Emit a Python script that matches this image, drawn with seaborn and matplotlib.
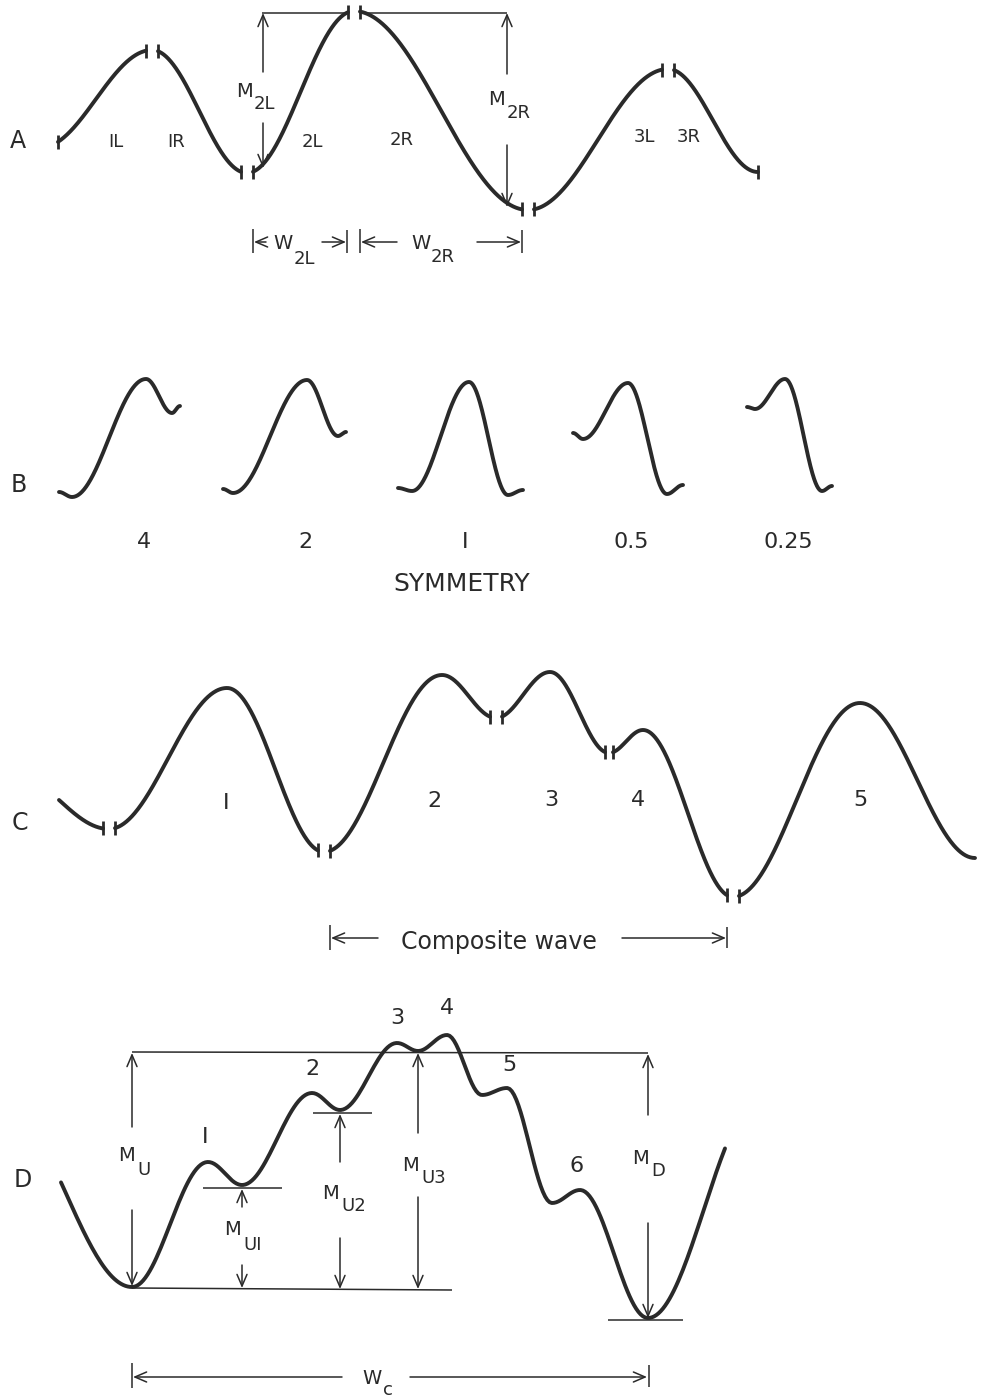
import numpy as np
import pandas as pd
import seaborn as sns
import matplotlib
matplotlib.use("Agg")
import matplotlib.pyplot as plt

INK = "#2a2a2a"

# turning points of each trace (pixel units, y down).
# a first/last point outside the drawn range only shapes the curve end.
a_x = [40, 152, 247, 354, 528, 668, 758]
a_y = [148, 50, 173, 11, 210, 69, 172]
a_breaks = [152, 247, 354, 528, 668]

b_x = [[59, 72, 146, 172, 180],
       [223, 233, 307, 338, 346],
       [398, 412, 469, 508, 523],
       [573, 583, 628, 667, 683],
       [747, 755, 785, 822, 832]]
b_y = [[492, 497, 379, 413, 406],
       [489, 493, 380, 436, 432],
       [488, 491, 382, 495, 490],
       [433, 439, 383, 494, 485],
       [407, 409, 379, 491, 486]]
b_symmetry = ["4", "2", "I", "0.5", "0.25"]

c_x = [9, 109, 227, 324, 442, 496, 550, 609, 643, 733, 860, 975]
c_y = [771, 829, 688, 852, 675, 718, 672, 753, 730, 897, 703, 858]
c_breaks = [109, 324, 496, 609, 733]
c_gaps = [6, 6, 6, 4, 6]
c_names = ["I", "2", "3", "4", "5"]

d_x = [0, 132, 208, 242, 312, 340, 397, 418, 447, 482, 507, 552, 580, 648, 760]
d_y = [1100, 1287, 1162, 1185, 1093, 1110, 1043, 1051, 1035, 1095, 1088, 1203,
       1190, 1318, 1100]
d_names = ["I", "2", "3", "4", "5", "6"]


def wave_y(xk, yk, x):
    xk = np.asarray(xk, float)
    yk = np.asarray(yk, float)
    i = np.clip(np.searchsorted(xk, x, side="right") - 1, 0, len(xk) - 2)
    t = (x - xk[i]) / (xk[i + 1] - xk[i])
    return yk[i] + (yk[i + 1] - yk[i]) * (1 - np.cos(np.pi * t)) / 2


def pieces(name, xk, yk, x_from, x_to, breaks=(), gaps=None):
    gaps = gaps or [6] * len(breaks)
    edges = [x_from]
    for b, g in zip(breaks, gaps):
        edges += [b - g, b + g]
    edges.append(x_to)
    frames = []
    for k in range(0, len(edges), 2):
        x = np.linspace(edges[k], edges[k + 1], 300)
        frames.append(pd.DataFrame({"x": x, "y": wave_y(xk, yk, x),
                                    "piece": f"{name}{k // 2}"}))
    return frames


def txt(ax, x, yc, s, size, ha="center"):
    # yc is the middle of the capitals
    ax.text(x, yc + 0.365 * size * 100 / 72, s, ha=ha, va="baseline",
            fontsize=size, color=INK)


def sub_label(ax, xm, ym, main, xs, ys, sub, size=14, sub_size=13):
    txt(ax, xm, ym, main, size)
    txt(ax, xs, ys, sub, sub_size, ha="left")


def arrow(ax, tail, tip):
    ax.annotate("", xy=tip, xytext=tail,
                arrowprops=dict(arrowstyle="->,head_length=0.7,head_width=0.3",
                                lw=1.1, color=INK, shrinkA=0, shrinkB=0,
                                mutation_scale=12))


def line(ax, xs, ys, lw=1.1):
    ax.plot(xs, ys, color=INK, lw=lw, solid_capstyle="butt")


sns.set_theme(style="white")
plt.rcParams["font.family"] = ["DejaVu Sans"]

fig = plt.figure(figsize=(9.89, 13.98), dpi=100)
ax = fig.add_axes([0, 0, 1, 1])

frames = []
fa = pieces("A", a_x, a_y, 58, 758, a_breaks)
frames += fa
for j, (bx, by) in enumerate(zip(b_x, b_y)):
    frames += pieces(f"B{j}_", bx, by, bx[0], bx[-1])
fc = pieces("C", c_x, c_y, 59, 975, c_breaks, c_gaps)
frames += fc
frames += pieces("D", d_x, d_y, 61, 725)
curves = pd.concat(frames, ignore_index=True)

sns.lineplot(data=curves, x="x", y="y", units="piece", estimator=None,
             sort=False, color=INK, linewidth=2.8, ax=ax)

# little end bars where the traces are cut
ends = []
for f in fa:
    ends += [(f.x.iloc[0], f.y.iloc[0]), (f.x.iloc[-1], f.y.iloc[-1])]
for k, f in enumerate(fc):
    if k > 0:
        ends.append((f.x.iloc[0], f.y.iloc[0]))
    if k < len(fc) - 1:
        ends.append((f.x.iloc[-1], f.y.iloc[-1]))
for ex, ey in ends:
    line(ax, [ex, ex], [ey - 7, ey + 7], lw=2.0)

# ---- panel A
txt(ax, 18, 139, "A", 17)
for s, x, y in zip(["IL", "IR", "2L", "2R", "3L", "3R"],
                   [116, 176, 312, 402, 644, 689],
                   [140, 140, 140, 138, 135, 135]):
    txt(ax, x, y, s, 13)
line(ax, [262, 346], [13, 13])
line(ax, [364, 507], [13, 13])
arrow(ax, (263, 72), (263, 13))
arrow(ax, (263, 123), (263, 168))
arrow(ax, (507, 74), (507, 13))
arrow(ax, (507, 145), (507, 207))
sub_label(ax, 244, 90, "M", 254, 102, "2L")
sub_label(ax, 496, 98, "M", 507, 111, "2R")
line(ax, [253, 253], [229, 253])
arrow(ax, (266, 242), (254, 242))
arrow(ax, (322, 242), (346, 242))
line(ax, [347, 347], [230, 253])
line(ax, [360, 360], [229, 253])
arrow(ax, (397, 242), (361, 242))
arrow(ax, (477, 242), (521, 242))
line(ax, [522, 522], [230, 253])
sub_label(ax, 283, 242, "W", 294, 257, "2L")
sub_label(ax, 421, 242, "W", 431, 255, "2R")

# ---- panel B
txt(ax, 19, 483, "B", 17)
for s, x in zip(b_symmetry, [144, 305, 465, 631, 788]):
    txt(ax, x, 540, s, 16)
txt(ax, 462, 582, "SYMMETRY", 18)

# ---- panel C
txt(ax, 20, 821, "C", 17)
for s, x, y in zip(c_names, [226, 434, 551, 638, 860],
                   [801, 799, 798, 798, 798]):
    txt(ax, x, y, s, 16)
line(ax, [330, 330], [925, 950])
arrow(ax, (378, 938), (331, 938))
txt(ax, 499, 940, "Composite wave", 17)
arrow(ax, (622, 938), (726, 938))
line(ax, [727, 727], [927, 948])

# ---- panel D
txt(ax, 23, 1178, "D", 17)
for s, x, y in zip(d_names, [205, 312, 397, 447, 509, 577],
                   [1135, 1067, 1016, 1006, 1063, 1164]):
    txt(ax, x, y, s, 16)
line(ax, [132, 648], [1052, 1053])
line(ax, [132, 452], [1288, 1290])
arrow(ax, (132, 1127), (132, 1053))
arrow(ax, (132, 1210), (132, 1286))
sub_label(ax, 126, 1154, "M", 137, 1168, "U")
line(ax, [203, 282], [1188, 1188])
arrow(ax, (242, 1207), (242, 1189))
arrow(ax, (242, 1265), (242, 1288))
sub_label(ax, 233, 1228, "M", 243, 1243, "UI")
line(ax, [313, 372], [1113, 1113])
arrow(ax, (340, 1162), (340, 1114))
arrow(ax, (340, 1238), (340, 1289))
sub_label(ax, 331, 1192, "M", 341, 1204, "U2")
arrow(ax, (418, 1133), (418, 1053))
arrow(ax, (418, 1197), (418, 1289))
sub_label(ax, 411, 1164, "M", 421, 1176, "U3")
arrow(ax, (648, 1115), (648, 1054))
arrow(ax, (648, 1223), (648, 1318))
sub_label(ax, 641, 1157, "M", 651, 1169, "D")
line(ax, [608, 683], [1320, 1320])
line(ax, [132, 132], [1363, 1388])
arrow(ax, (342, 1377), (133, 1377))
arrow(ax, (410, 1377), (647, 1377))
line(ax, [649, 649], [1365, 1387])
sub_label(ax, 372, 1377, "W", 383, 1388, "c")

ax.set_xlim(0, 989)
ax.set_ylim(1398, 0)
ax.axis("off")
fig.savefig("out.png", dpi=100, facecolor="white")
